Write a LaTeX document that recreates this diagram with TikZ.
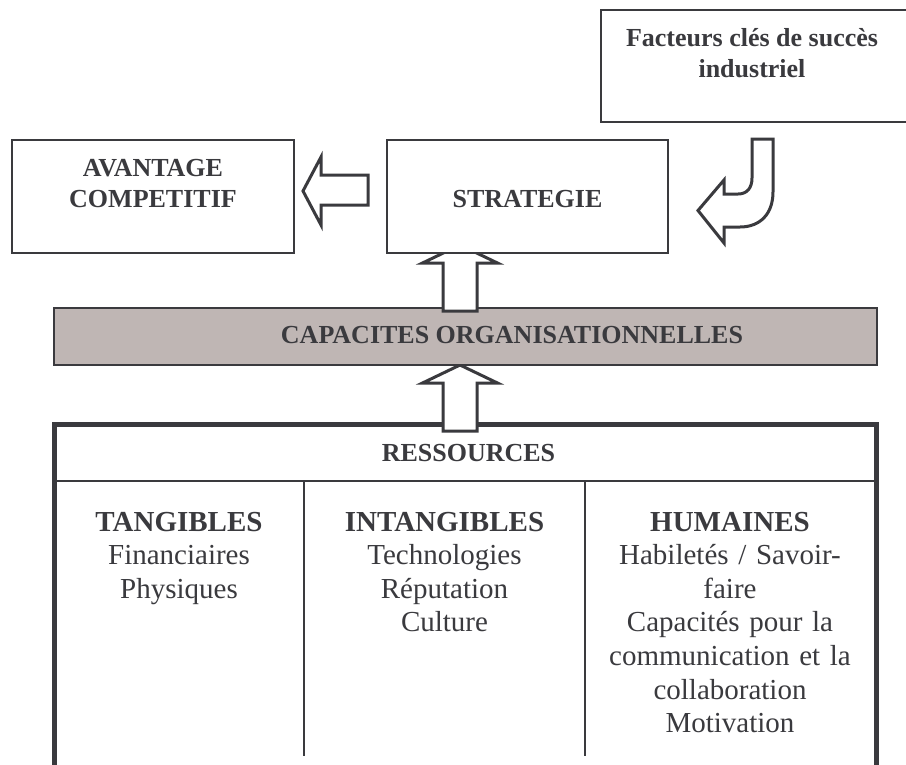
\documentclass[tikz,border=0pt]{standalone}
\usepackage{fontspec}
\setmainfont{Liberation Serif}
\definecolor{ink}{RGB}{58,58,62}
\definecolor{capfill}{RGB}{191,182,180}
\tikzset{
  box/.style={draw=ink, line width=1.8pt, fill=white, rectangle, inner sep=0pt},
  capbox/.style={draw=ink, line width=1.8pt, fill=capfill, rectangle, inner sep=0pt},
  blockarrow/.style={draw=ink, line width=3pt, fill=white, line join=miter},
  toptext/.style={font=\fontsize{26}{31}\selectfont\bfseries, text=ink, align=center, inner sep=0pt, anchor=base},
  coltext/.style={font=\fontsize{29}{33.6}\selectfont, text=ink, align=center, inner sep=0pt, anchor=base, text width=280pt},
  uparrow/.pic={\draw[blockarrow] (-17,0) -- (-17,-48) -- (-37.5,-48) -- (0,-66) -- (37.5,-48) -- (17,-48) -- (17,0) -- cycle;}
}
\begin{document}
\begin{tikzpicture}[x=1pt,y=-1pt]
\useasboundingbox (0,0) rectangle (906,764);
\fill[white] (0,0) rectangle (906,764);

% Ressources frame
\draw[ink, line width=1.2pt] (54,481) -- (876,481);
\draw[ink, line width=1.2pt] (304,481) -- (304,756);
\draw[ink, line width=1.2pt] (585,481) -- (585,756);
\draw[ink, line width=5pt] (54,775) -- (54,424) -- (876,424) -- (876,775);
\node[toptext] (ress) at (468.5,461) {RESSOURCES};

% Arrow ressources -> capacites
\pic at (460,431) {uparrow};

% Capacites
\node[capbox, minimum width=823pt, minimum height=57pt] (cap) at (465.5,336.5) {};
\node[toptext] (captext) at (512,343) {CAPACITES ORGANISATIONNELLES};

% Arrow capacites -> strategie
\pic at (460,311) {uparrow};

% Strategie
\node[box, minimum width=281pt, minimum height=113pt] (strat) at (527.5,196.5) {};
\node[toptext] (strattext) at (527.5,207) {STRATEGIE};

% Avantage
\node[box, minimum width=282pt, minimum height=113pt] (avant) at (153,196.5) {};
\node[toptext] (avanttext) at (153,207) {AVANTAGE\\COMPETITIF};

% Left arrow strategie -> avantage
\draw[blockarrow] (368,175) -- (321,175) -- (321,157) -- (303,191) -- (321,225) -- (321,205) -- (368,205) -- cycle;

% Facteurs
\node[box, minimum width=311pt, minimum height=112pt] (fact) at (756.5,66) {};
\node[toptext] (facttext) at (752,77) {Facteurs clés de succès\\industriel};

% Curved arrow facteurs -> strategie
\draw[blockarrow] (752,139) -- (773,139) -- (773,192)
  .. controls (773,214) and (760,227) .. (740,227) -- (724,227) -- (724,243)
  -- (698,210.5) -- (724,180) -- (724,194) -- (738,194)
  .. controls (747,194) and (752,188) .. (752,178) -- cycle;

% Columns
\node[coltext, text width=240pt] (tang) at (179,531) {\textbf{TANGIBLES}\\Financiaires\\Physiques};
\node[coltext, text width=270pt] (intang) at (444.5,531) {\textbf{INTANGIBLES}\\Technologies\\Réputation\\Culture};
\node[coltext, text width=280pt] (hum) at (730,531) {\textbf{HUMAINES}\\Habiletés / Savoir-\\faire\\Capacités pour la\\communication et la\\collaboration\\Motivation};
\end{tikzpicture}
\end{document}
